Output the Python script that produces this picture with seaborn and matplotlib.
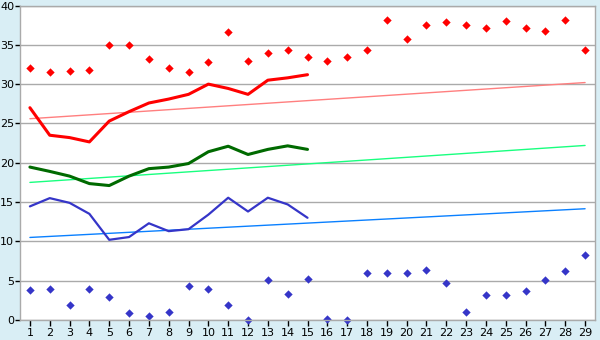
import matplotlib
matplotlib.use("Agg")
import matplotlib.pyplot as plt
import seaborn as sns
import pandas as pd
import numpy as np

days = list(range(1, 30))
max_pts = [32.0, 31.5, 31.7, 31.8, 35.0, 35.0, 33.2, 32.0, 31.6, 32.8,
           36.6, 33.0, 33.9, 34.4, 33.5, 32.9, 33.4, 34.3, 38.1, 35.8,
           37.5, 37.9, 37.5, 37.2, 38.0, 37.2, 36.8, 38.1, 34.4]
min_pts = [3.85, 4.0, 1.95, 4.0, 2.95, 0.9, 0.5, 1.05, 4.35, 4.0,
           1.95, 0.0, 5.1, 3.3, 5.25, 0.1, 0.0, 6.0, 6.0, 6.0,
           6.4, 4.75, 1.05, 3.2, 3.2, 3.7, 5.1, 6.25, 8.3]
line_days = list(range(1, 16))
red_line = [27.0, 23.5, 23.2, 22.65, 25.3, 26.5, 27.6, 28.1, 28.7, 30.0,
            29.45, 28.7, 30.5, 30.8, 31.2]
green_line = [19.45, 18.9, 18.3, 17.35, 17.1, 18.3, 19.25, 19.45, 19.9, 21.4,
              22.1, 21.05, 21.7, 22.15, 21.7]
blue_line = [14.45, 15.5, 14.9, 13.5, 10.2, 10.55, 12.3, 11.3, 11.55, 13.4,
             15.55, 13.8, 15.55, 14.7, 13.0]
trend_days = [1, 29]
red_trend = [25.6, 30.2]
green_trend = [17.5, 22.2]
blue_trend = [10.5, 14.15]

bg = "#D9EEF5"
grid_c = "#AAAAAA"

sns.set_style("white")
plt.rcParams['font.family'] = ['DejaVu Sans']

fig = plt.figure(figsize=(6, 3.4), dpi=100, facecolor=bg)
ax = fig.add_axes([20/600, 20/340, 575/600, 314.5/340])
ax.set_facecolor("white")

ax.set_xlim(0.5, 29.5)
ax.set_ylim(0, 40)
ax.set_yticks(range(0, 41, 5))
ax.set_xticks(days)
ax.yaxis.grid(True, color=grid_c, linewidth=1.0)
ax.set_axisbelow(True)

df_trend = pd.DataFrame({"x": trend_days, "r": red_trend, "g": green_trend, "b": blue_trend})
sns.lineplot(data=df_trend, x="x", y="r", color="#FF7F7F", linewidth=1.0, ax=ax)
sns.lineplot(data=df_trend, x="x", y="g", color="#19FF7F", linewidth=1.0, ax=ax)
sns.lineplot(data=df_trend, x="x", y="b", color="#0A80FF", linewidth=1.0, ax=ax)

df_line = pd.DataFrame({"x": line_days, "r": red_line, "g": green_line, "b": blue_line})
sns.lineplot(data=df_line, x="x", y="r", color="#FF0000", linewidth=2.2, ax=ax)
sns.lineplot(data=df_line, x="x", y="g", color="#006A00", linewidth=2.2, ax=ax)
sns.lineplot(data=df_line, x="x", y="b", color="#3535C8", linewidth=1.6, ax=ax)

df_pts = pd.DataFrame({"x": days, "mx": max_pts, "mn": min_pts})
sns.scatterplot(data=df_pts, x="x", y="mx", color="#FF0000", marker="D", s=18, linewidth=0, ax=ax, clip_on=False)
sns.scatterplot(data=df_pts, x="x", y="mn", color="#3535C8", marker="D", s=18, linewidth=0, ax=ax, clip_on=False)

ax.set_xlabel("")
ax.set_ylabel("")
for s in ax.spines.values():
    s.set_visible(True)
    s.set_color(grid_c)
    s.set_linewidth(1.0)
ax.tick_params(axis="both", which="both", width=1, color="#000000",
               labelsize=8, labelcolor="#000000", direction="out")
ax.tick_params(axis="y", left=True, length=3.6, pad=0.5)
ax.tick_params(axis="x", bottom=True, length=4.3, pad=1.5)

fig.savefig("out.png", dpi=100, facecolor=bg)
